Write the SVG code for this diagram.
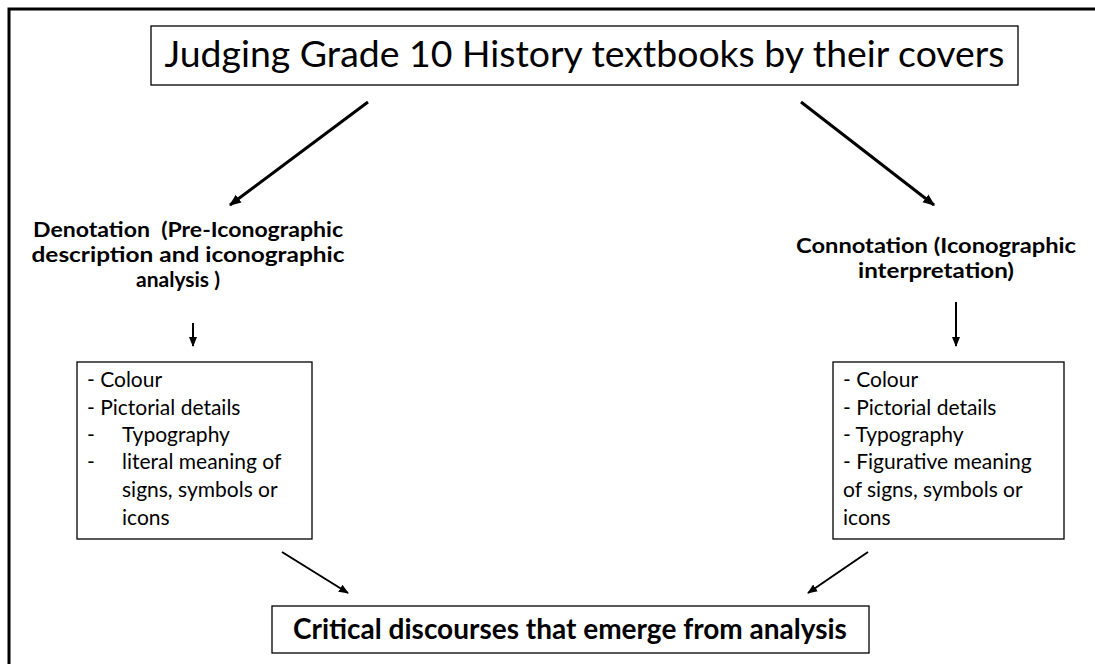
<svg xmlns="http://www.w3.org/2000/svg" width="1095" height="664" viewBox="0 0 1095 664">
<defs>
<marker id="ah" viewBox="0 0 10 10" refX="9" refY="5" markerWidth="4" markerHeight="4" orient="auto" markerUnits="strokeWidth">
<path d="M0,1 L10,5 L0,9 z" fill="#000"/>
</marker>
<marker id="ahs" viewBox="0 0 10 10" refX="9" refY="5" markerWidth="5" markerHeight="5" orient="auto" markerUnits="strokeWidth">
<path d="M0,1 L10,5 L0,9 z" fill="#000"/>
</marker>
<style>
.box{fill:#fff;stroke:#000;stroke-width:1.3}
.t{font-family:Lato,"Liberation Sans",sans-serif;fill:#000}
.title{font-size:37px}
.hd{font-size:20.5px;font-weight:bold;text-anchor:middle}
.li{font-size:21px}
.bt{font-size:28px;font-weight:bold;text-anchor:middle}
.c{stroke:#000;fill:none}
</style>
</defs>
<rect x="9" y="9" width="1100" height="670" fill="none" stroke="#000" stroke-width="3"/>
<g id="connectors">
<line class="c" x1="368" y1="102" x2="230" y2="205" stroke-width="3" marker-end="url(#ah)"/>
<line class="c" x1="801" y1="102" x2="934" y2="205" stroke-width="3" marker-end="url(#ah)"/>
<line class="c" x1="193" y1="323" x2="193" y2="346" stroke-width="2" marker-end="url(#ahs)"/>
<line class="c" x1="956" y1="302" x2="956" y2="346" stroke-width="2" marker-end="url(#ahs)"/>
<line class="c" x1="282" y1="552" x2="348" y2="593" stroke-width="2" marker-end="url(#ahs)"/>
<line class="c" x1="868" y1="552" x2="808" y2="593" stroke-width="2" marker-end="url(#ahs)"/>
</g>
<g id="title">
<rect class="box" x="151" y="26" width="867" height="59"/>
<text class="t title" x="584.5" y="67" text-anchor="middle" textLength="840" lengthAdjust="spacingAndGlyphs">Judging Grade 10 History textbooks by their covers</text>
</g>
<g id="denotation">
<text class="t hd" x="188" y="237" textLength="310" lengthAdjust="spacingAndGlyphs" style="white-space:pre">Denotation  (Pre-Iconographic</text>
<text class="t hd" x="188" y="262" textLength="313" lengthAdjust="spacingAndGlyphs">description and iconographic</text>
<text class="t hd" x="178" y="287" textLength="84" lengthAdjust="spacingAndGlyphs">analysis )</text>
</g>
<g id="connotation">
<text class="t hd" x="936" y="253" textLength="280" lengthAdjust="spacingAndGlyphs">Connotation (Iconographic</text>
<text class="t hd" x="936" y="278" textLength="156" lengthAdjust="spacingAndGlyphs">interpretation)</text>
</g>
<g id="denotation-list">
<rect class="box" x="77" y="362" width="235" height="177"/>
<text class="t li" x="87" y="387">- Colour</text>
<text class="t li" x="87" y="415">- Pictorial details</text>
<text class="t li" x="87" y="442">-</text>
<text class="t li" x="122" y="442">Typography</text>
<text class="t li" x="87" y="469">-</text>
<text class="t li" x="122" y="469">literal meaning of</text>
<text class="t li" x="122" y="497">signs, symbols or</text>
<text class="t li" x="122" y="525">icons</text>
</g>
<g id="connotation-list">
<rect class="box" x="833" y="362" width="231" height="177"/>
<text class="t li" x="843" y="387">- Colour</text>
<text class="t li" x="843" y="415">- Pictorial details</text>
<text class="t li" x="843" y="442">- Typography</text>
<text class="t li" x="843" y="469">- Figurative meaning</text>
<text class="t li" x="843" y="497">of signs, symbols or</text>
<text class="t li" x="843" y="525">icons</text>
</g>
<g id="critical">
<rect class="box" x="272" y="606" width="597" height="47"/>
<text class="t bt" x="570" y="639">Critical discourses that emerge from analysis</text>
</g>
</svg>
